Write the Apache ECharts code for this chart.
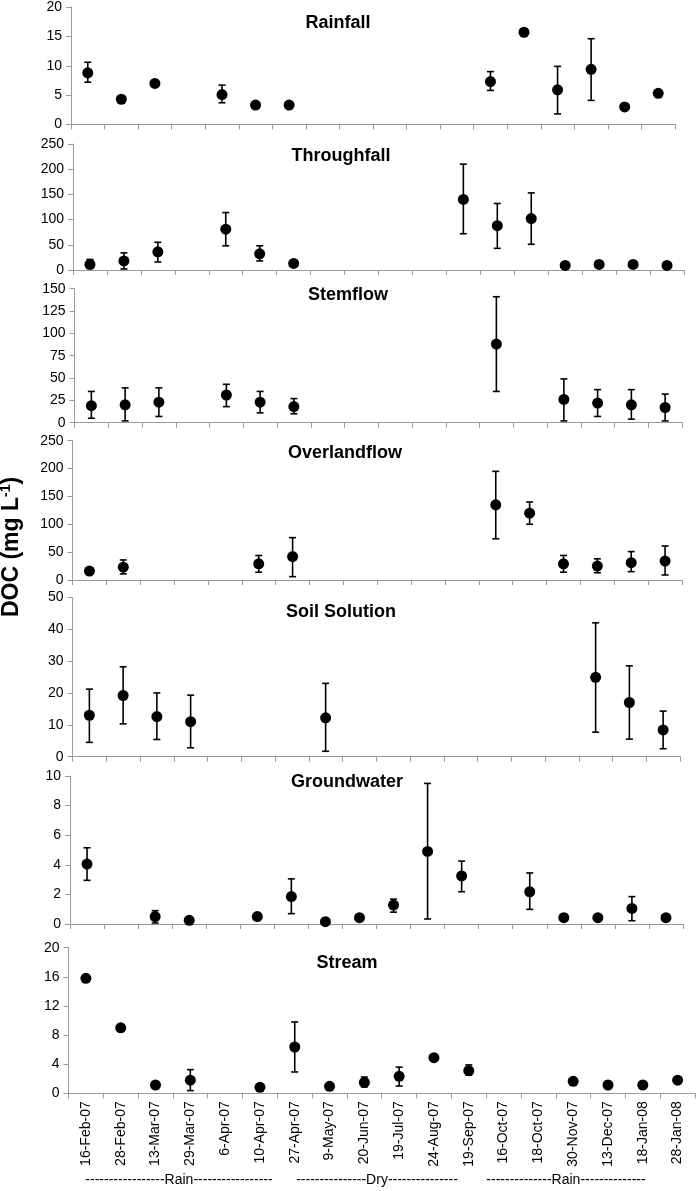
<!DOCTYPE html>
<html>
<head>
<meta charset="utf-8">
<script src="https://cdn.jsdelivr.net/npm/echarts@6/dist/echarts.min.js"></script>
<style>
html,body{margin:0;padding:0;background:#fff;}
#chart{width:698px;height:1191px;}
</style>
</head>
<body>
<div id="chart"></div>
<script>
const categories = ['16-Feb-07','28-Feb-07','13-Mar-07','29-Mar-07','6-Apr-07','10-Apr-07','27-Apr-07','9-May-07','20-Jun-07','19-Jul-07','24-Aug-07','19-Sep-07','16-Oct-07','18-Oct-07','30-Nov-07','13-Dec-07','18-Jan-08','28-Jan-08'];
const N = null;
// mean values, lower and upper error bar ends (null = no point / no error bar)
const rainMean  = [8.8, 4.3, 7.0, N, 5.1, 3.3, 3.3, N, N, N, N, N, 7.3, 15.7, 5.9, 9.4, 3.0, 5.3];
const rainLow   = [7.2, N, N, N, 3.7, N, N, N, N, N, N, N, 5.8, N, 1.8, 4.1, N, N];
const rainHigh  = [10.6, N, N, N, 6.7, N, N, N, N, N, N, N, 9.0, N, 9.9, 14.6, N, N];

const thruMean  = [11, 18, 36, N, 81, 32, 13, N, N, N, N, 140, 88, 102, 9, 11, 11, 9];
const thruLow   = [3, 2, 16, N, 48, 18, N, N, N, N, N, 72, 43, 51, N, N, N, N];
const thruHigh  = [21, 34, 55, N, 114, 48, N, N, N, N, N, 210, 132, 153, N, N, N, N];

const stemMean  = [19, 20, 23, N, 31, 23, 18, N, N, N, N, N, 88, N, 26, 22, 20, 17];
const stemLow   = [5, 2, 7, N, 18, 11, 10, N, N, N, N, N, 35, N, 2, 7, 4, 2];
const stemHigh  = [35, 39, 39, N, 43, 35, 27, N, N, N, N, N, 141, N, 49, 37, 37, 32];

const overMean  = [16, 23, N, N, N, 29, 42, N, N, N, N, N, 135, 120, 29, 25, 31, 34];
const overLow   = [N, 11, N, N, N, 14, 6, N, N, N, N, N, 74, 100, 14, 13, 15, 9];
const overHigh  = [N, 36, N, N, N, 44, 76, N, N, N, N, N, 195, 140, 44, 38, 51, 61];

const soilMean  = [13, 19.2, 12.6, 11, N, N, N, 12.2, N, N, N, N, N, N, N, 24.9, 17, 8.4];
const soilLow   = [4.5, 10.3, 5.4, 2.8, N, N, N, 1.7, N, N, N, N, N, N, N, 7.7, 5.5, 2.5];
const soilHigh  = [21.2, 28.2, 20, 19.3, N, N, N, 23, N, N, N, N, N, N, N, 42, 28.5, 14.3];

const gwMean    = [4.05, N, 0.5, 0.25, N, 0.5, 1.85, 0.16, 0.43, 1.28, 4.9, 3.25, N, 2.18, 0.43, 0.43, 1.05, 0.43];
const gwLow     = [2.95, N, 0.07, N, N, N, 0.7, N, N, 0.8, 0.34, 2.18, N, 0.99, N, N, 0.22, N];
const gwHigh    = [5.15, N, 0.9, N, N, N, 3.05, N, N, 1.68, 9.5, 4.25, N, 3.45, N, N, 1.85, N];

const strMean   = [15.8, 9.0, 1.14, 1.8, N, 0.82, 6.36, 0.96, 1.5, 2.33, 4.9, 3.1, N, N, 1.65, 1.14, 1.14, 1.8];
const strLow    = [N, N, N, 0.37, N, N, 2.93, N, 0.87, 1.0, N, 2.5, N, N, N, N, N, N];
const strHigh   = [N, N, N, 3.25, N, N, 9.8, N, 2.24, 3.6, N, 3.9, N, N, N, N, N, N];

const panelTitles = ['Rainfall','Throughfall','Stemflow','Overlandflow','Soil Solution','Groundwater','Stream'];
const yMax      = [20, 250, 150, 250, 50, 10, 20];
const yInterval = [5, 50, 25, 50, 10, 2, 4];
const periodLabels = ['-----------------Rain-----------------','---------------Dry---------------','--------------Rain--------------'];
const yAxisTitle = 'DOC (mg L';

const means = [rainMean, thruMean, stemMean, overMean, soilMean, gwMean, strMean];
const lows  = [rainLow, thruLow, stemLow, overLow, soilLow, gwLow, strLow];
const highs = [rainHigh, thruHigh, stemHigh, overHigh, soilHigh, gwHigh, strHigh];

// layout (pixels)
const boxes = [
  {l:71, r:675, t:7, b:124.5},
  {l:73, r:684, t:144, b:270},
  {l:74.5, r:682, t:288.7, b:422.7},
  {l:72.5, r:682, t:440.7, b:580},
  {l:72.5, r:680, t:597.3, b:756.7},
  {l:70, r:683, t:776, b:924},
  {l:68.5, r:695, t:947.7, b:1093.3}
];
const titlePos = [[338,23],[341,156],[348,295],[345,453],[341,612],[347,782],[347,963]];
const periodPos = [[179,1180],[377,1180],[566,1180]];

const FONT = "'Liberation Sans', Arial, Helvetica, sans-serif";
const AXIS_COLOR = '#9a9a9a';

const grids = [], xAxes = [], yAxes = [], series = [], graphics = [];

boxes.forEach((b, i) => {
  grids.push({left: b.l, top: b.t, width: b.r - b.l, height: b.b - b.t, containLabel: false});
  const last = i === boxes.length - 1;
  xAxes.push({
    type: 'category', gridIndex: i, data: categories, boundaryGap: true,
    axisLine: {show: true, lineStyle: {color: AXIS_COLOR, width: 1}},
    axisTick: {show: true, interval: 0, length: 5, lineStyle: {color: AXIS_COLOR}},
    axisLabel: {show: last, interval: 0, rotate: 90, fontSize: 14, color: '#000', fontFamily: FONT, margin: 8},
    splitLine: {show: false}
  });
  yAxes.push({
    type: 'value', gridIndex: i, min: 0, max: yMax[i], interval: yInterval[i],
    axisLine: {show: true, lineStyle: {color: AXIS_COLOR, width: 1}},
    axisTick: {show: true, length: 5, lineStyle: {color: AXIS_COLOR}},
    axisLabel: {fontSize: 14, color: '#000', fontFamily: FONT, margin: 9},
    splitLine: {show: false}
  });
  const errData = [];
  lows[i].forEach((lo, k) => { if (lo !== null && highs[i][k] !== null) errData.push([k, lo, highs[i][k]]); });
  series.push({
    type: 'custom', xAxisIndex: i, yAxisIndex: i, data: errData, z: 2, silent: true,
    encode: {x: 0, y: [1, 2]},
    renderItem: function (params, api) {
      const k = api.value(0);
      const p1 = api.coord([k, api.value(1)]);
      const p2 = api.coord([k, api.value(2)]);
      const w = 3.5;
      const st = {stroke: '#000', lineWidth: 1.6};
      return {type: 'group', children: [
        {type: 'line', shape: {x1: p1[0], y1: p1[1], x2: p2[0], y2: p2[1]}, style: st},
        {type: 'line', shape: {x1: p1[0]-w, y1: p1[1], x2: p1[0]+w, y2: p1[1]}, style: st},
        {type: 'line', shape: {x1: p2[0]-w, y1: p2[1], x2: p2[0]+w, y2: p2[1]}, style: st}
      ]};
    }
  });
  series.push({
    type: 'scatter', xAxisIndex: i, yAxisIndex: i, z: 3,
    symbol: 'circle', symbolSize: 11,
    itemStyle: {color: '#000', opacity: 1},
    data: means[i].map((v, k) => v === null ? null : [k, v])
  });
  graphics.push({
    type: 'text', x: titlePos[i][0], y: titlePos[i][1],
    style: {text: panelTitles[i], font: "bold 18px " + FONT, fill: '#000', align: 'center', verticalAlign: 'middle'}
  });
});

periodLabels.forEach((t, j) => {
  graphics.push({type: 'text', x: periodPos[j][0], y: periodPos[j][1],
    style: {text: t, font: "14px " + FONT, fill: '#000', align: 'center', verticalAlign: 'middle'}});
});

graphics.push({
  type: 'text', x: 12, y: 547, rotation: Math.PI / 2,
  style: {
    text: '{a|' + yAxisTitle + '}{s|-1}{a|)}',
    align: 'center', verticalAlign: 'middle', fill: '#000',
    rich: {
      a: {font: "bold 23px " + FONT, fill: '#000', lineHeight: 26},
      s: {font: "bold 14px " + FONT, fill: '#000', verticalAlign: 'top', lineHeight: 26, padding: [0,0,10,0]}
    }
  }
});

const chart = echarts.init(document.getElementById('chart'));
chart.setOption({
  animation: false,
  backgroundColor: '#fff',
  grid: grids, xAxis: xAxes, yAxis: yAxes, series: series, graphic: graphics
});
</script>
</body>
</html>
